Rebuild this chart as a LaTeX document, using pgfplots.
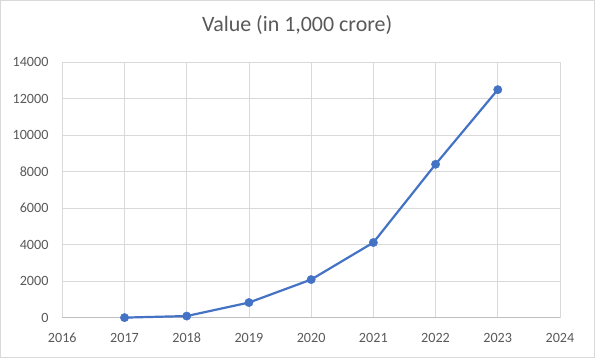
\documentclass[border=0pt]{standalone}
\usepackage{fontspec}
\setmainfont{Carlito}
\usepackage{pgfplots}
\pgfplotsset{compat=1.18}
\definecolor{txt}{HTML}{595959}
\definecolor{gridc}{HTML}{D9D9D9}
\definecolor{axc}{HTML}{BFBFBF}
\definecolor{serie}{HTML}{4472C4}
\begin{document}
\begin{tikzpicture}
\begin{axis}[
  scale only axis, width=497.7bp, height=255.4bp,
  xmin=2016, xmax=2024, ymin=0, ymax=14000,
  xtick={2016,2017,...,2024}, ytick={0,2000,...,14000},
  scaled y ticks=false,
  /pgf/number format/1000 sep={},
  /pgf/number format/assume math mode=true,
  grid=major, major grid style={gridc, line width=0.75bp},
  axis line style={draw=none},
  major tick length=0pt,
  tick label style={font=\fontsize{14.2}{17}\selectfont, text=txt},
  xticklabel style={inner sep=0pt, anchor=north, yshift=-15bp},
  yticklabel style={inner sep=0pt, anchor=east, xshift=-13.6bp},
  title={Value (in 1,000 crore)},
  title style={at={(0.5,1)}, anchor=center, yshift=31.3bp, xshift=-14bp, font=\fontsize{22}{26}\selectfont, text=txt, inner sep=0pt},
  extra y ticks={0}, extra y tick labels={},
  extra y tick style={major grid style={axc, line width=0.75bp}},
  clip=false,
]
\addplot[serie, line width=2.2bp, mark=*, mark size=4.2bp, mark options={solid, fill=serie, draw=serie, line width=0.4bp}] coordinates {
  (2017,5) (2018,90) (2019,830) (2020,2090) (2021,4120) (2022,8410) (2023,12500)
};
\end{axis}
\draw[gridc, line width=1bp] ([shift={(-61.8bp,-39.8bp)}]current axis.south west) rectangle ++(594bp,357bp);
\pgfresetboundingbox
\path[use as bounding box] ([shift={(-62.3bp,-40.3bp)}]current axis.south west) rectangle ++(595bp,358bp);
\end{tikzpicture}
\end{document}
